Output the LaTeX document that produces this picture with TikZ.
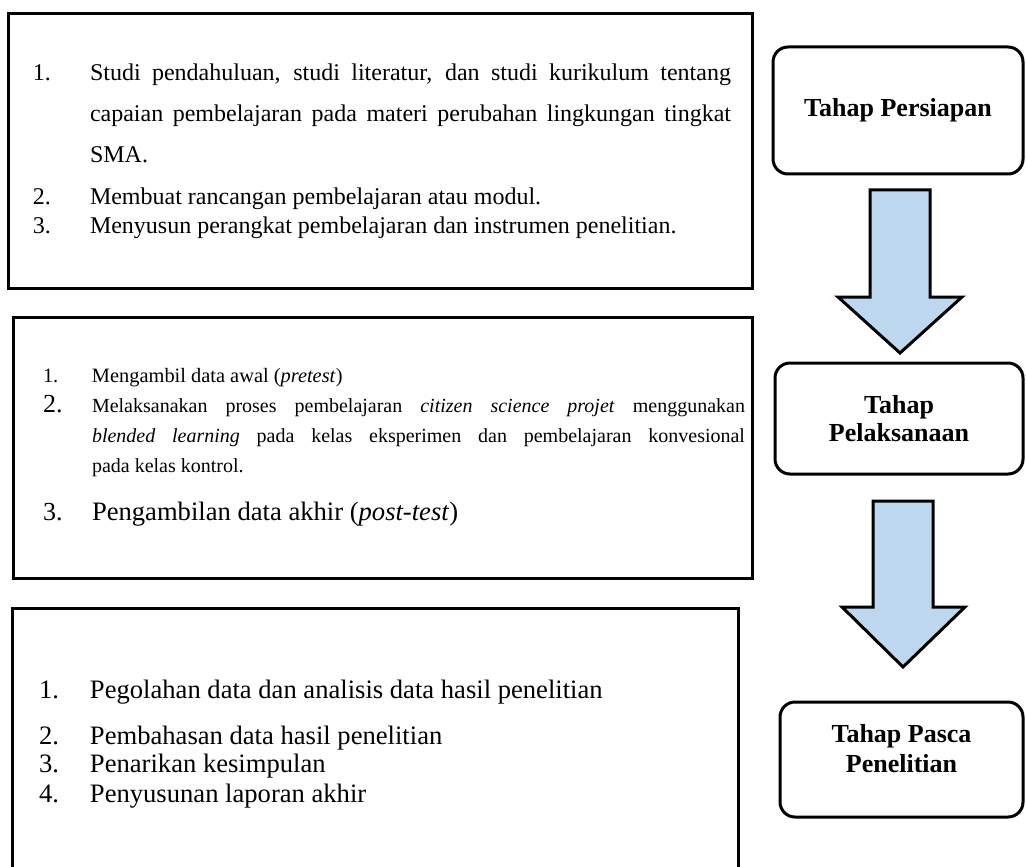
\documentclass[tikz,border=0pt]{standalone}
\usepackage{fontspec}
\setmainfont{Liberation Serif}
\usepackage{tikz}
\definecolor{arrowblue}{HTML}{BDD7EE}
\hyphenpenalty=10000
\newlength{\butirindent}
\newcommand{\butir}[4]{{\fontsize{#1}{#2}\selectfont\noindent\hangindent=\butirindent\hangafter=1\makebox[\butirindent][l]{#3}#4\par}}

\begin{document}
\begin{tikzpicture}[
    x=0.5pt, y=-0.5pt,
    every node/.style={inner sep=0pt, outer sep=0pt},
    detail/.style={draw, line width=1.5pt, anchor=north west, align=justify},
    phase/.style={draw, line width=1.5pt, rounded corners=7.5pt, anchor=north west, align=center, font=\fontsize{13}{14}\selectfont\bfseries},
    blockarrow/.style={draw, line width=1.5pt, fill=arrowblue}
]
\useasboundingbox (0,0) rectangle (1026,866);

\node[detail, text width=372pt, minimum height=137pt] (prepdetail) at (8,14) {%
\leftskip=12.5pt\rightskip=10.5pt\setlength{\butirindent}{28.5pt}%
\butir{12}{20.5}{1.}{Studi pendahuluan, studi literatur, dan studi kurikulum tentang\linebreak capaian pembelajaran pada materi perubahan lingkungan tingkat\linebreak SMA.}
\butir{12}{21}{2.}{Membuat rancangan pembelajaran atau modul.}
\butir{12}{14.5}{3.}{Menyusun perangkat pembelajaran dan instrumen penelitian.}};

\node[detail, text width=369.5pt, minimum height=130.5pt] (impldetail) at (13,317) {%
\leftskip=15pt\rightskip=3.5pt\setlength{\butirindent}{24.5pt}%
\butir{10.2}{15}{1.}{Mengambil data awal (\textit{pretest})}
\butir{10}{15}{{\fontsize{13}{15}\selectfont 2.}}{Melaksanakan proses pembelajaran \textit{citizen science projet} menggunakan\linebreak \textit{blended learning} pada kelas eksperimen dan pembelajaran konvesional\linebreak pada kelas kontrol.}
\butir{13.3}{24}{{\fontsize{13}{15}\selectfont 3.}}{Pengambilan data akhir (\textit{post-test})}};

\node[detail, text width=363pt, minimum height=136pt] (postdetail) at (12,608) {%
\leftskip=13.5pt\setlength{\butirindent}{25.5pt}%
\butir{13.3}{15}{1.}{Pegolahan data dan analisis data hasil penelitian}
\butir{13.3}{23}{2.}{Pembahasan data hasil penelitian}
\butir{13.3}{14}{3.}{Penarikan kesimpulan}
\butir{13.3}{15}{4.}{Penyusunan laporan akhir}};

\node[phase, minimum width=125pt, minimum height=63.5pt] (prep) at (773,47) {Tahap Persiapan};
\node[phase, minimum width=124pt, minimum height=55.5pt] (impl) at (775,363) {Tahap\\Pelaksanaan};
\node[phase, minimum width=121.5pt, minimum height=57.5pt] (post) at (780,702) {Tahap Pasca\\[1pt]Penelitian\\[-3pt]\mbox{}};

\draw[blockarrow] ([xshift=-14pt,yshift=-8pt]prep.south) -- ++(60,0) -- ++(0,107) -- ++(32,0) -- ++(-62,56) -- ++(-62,-56) -- ++(32,0) -- cycle;
\draw[blockarrow] ([xshift=-13pt,yshift=-13.5pt]impl.south) -- ++(60,0) -- ++(0,106) -- ++(32,0) -- ++(-62,60) -- ++(-61,-60) -- ++(31,0) -- cycle;
\end{tikzpicture}
\end{document}
